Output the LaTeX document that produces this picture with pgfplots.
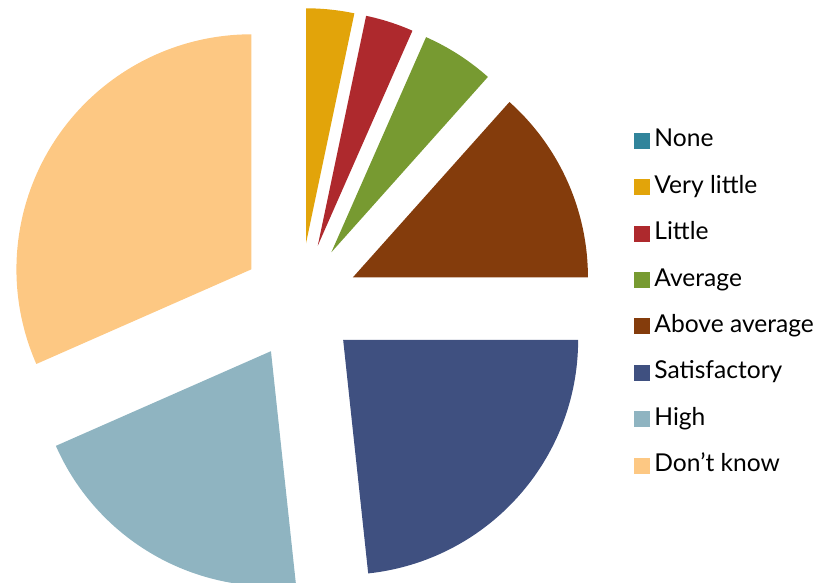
\documentclass[border=0pt]{standalone}
\usepackage{pgfplots}
\pgfplotsset{compat=1.18}
\usepackage{fontspec}
\setmainfont{Lato}
\definecolor{cN}{HTML}{31849B}
\definecolor{cVL}{HTML}{E2A40A}
\definecolor{cL}{HTML}{AE292D}
\definecolor{cA}{HTML}{779A31}
\definecolor{cAA}{HTML}{843C0C}
\definecolor{cS}{HTML}{3F5080}
\definecolor{cH}{HTML}{8FB4C1}
\definecolor{cDK}{HTML}{FDC883}
\begin{document}
\begin{tikzpicture}
\begin{axis}[
  x=1pt, y=1pt,
  xmin=-300, xmax=538, ymin=-282, ymax=301,
  hide axis, clip=false,
  legend image code/.code={\fill[#1] (0pt,-7.5pt) rectangle (15pt,7.5pt);},
  legend style={draw=none, fill=none, inner sep=0pt, outer sep=0pt,
    at={(axis cs:334,173)}, anchor=north west,
    font=\fontsize{24.6}{28}\selectfont,
    nodes={inner sep=0pt, outer sep=0pt, text height=19pt, text depth=6pt},
    row sep=21.4pt, column sep=5pt},
  legend cell align=left,
]
\coordinate (bl) at (axis cs:-300,-282);
\coordinate (tr) at (axis cs:538,301);
\def\cum{0}
\pgfplotsforeachungrouped \v/\c in {3.3/cVL,3.3/cL,5.0/cA,13.4/cAA,23.3/cS,20.1/cH,31.6/cDK}{%
  \pgfmathsetmacro\a{90-3.6*\cum}%
  \pgfmathsetmacro\b{90-3.6*(\cum+\v)}%
  \pgfmathsetmacro\m{(\a+\b)/2}%
  \pgfmathsetmacro\ox{58*cos(\m)}%
  \pgfmathsetmacro\oy{58*sin(\m)}%
  \pgfmathsetmacro\sx{\ox+235*cos(\a)}%
  \pgfmathsetmacro\sy{\oy+235*sin(\a)}%
  \edef\temp{\noexpand\fill[\c] (axis cs:\ox,\oy) -- (axis cs:\sx,\sy) arc[start angle=\a, end angle=\b, radius=235pt] -- cycle;}%
  \temp
  \pgfmathsetmacro\cum{\cum+\v}%
}
\addlegendimage{cN}\addlegendentry{None}
\addlegendimage{cVL}\addlegendentry{Very little}
\addlegendimage{cL}\addlegendentry{Little}
\addlegendimage{cA}\addlegendentry{Average}
\addlegendimage{cAA}\addlegendentry{Above average}
\addlegendimage{cS}\addlegendentry{Satisfactory}
\addlegendimage{cH}\addlegendentry{High}
\addlegendimage{cDK}\addlegendentry{Don’t know}
\end{axis}
\pgfresetboundingbox
\path (bl) rectangle (tr);
\end{tikzpicture}
\end{document}
